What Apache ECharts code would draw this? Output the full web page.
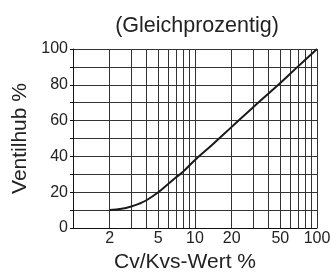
<!DOCTYPE html>
<html>
<head>
<meta charset="utf-8">
<script src="https://cdn.jsdelivr.net/npm/echarts@6/dist/echarts.min.js"></script>
<style>
  html, body { margin: 0; padding: 0; background: #fff; }
  #chart { width: 333px; height: 273px; }
</style>
</head>
<body>
<div id="chart"></div>
<script>
// Kennlinie: Cv/Kvs-Wert % (x, log) gegen Ventilhub % (y)
const kvsWert = [2, 2.5, 3, 3.5, 4, 5, 6, 7, 8, 10, 14, 20, 30, 50, 70, 100];
const ventilhub = [10, 10.7, 12, 13.6, 15.5, 20, 24.5, 28.3, 31.5, 38, 46.8, 56.5, 67.5, 81, 90.3, 100];
const xLabels = [2, 5, 10, 20, 50, 100];
const xGrid = [1, 2, 3, 4, 5, 6, 7, 8, 9, 10, 20, 30, 40, 50, 60, 70, 80, 90, 100];

const font = 'Liberation Sans, Arial, sans-serif';
const chart = echarts.init(document.getElementById('chart'));

chart.setOption({
  animation: false,
  title: {
    text: '(Gleichprozentig)',
    left: 192,
    top: 10,
    textAlign: 'center',
    textStyle: { fontFamily: font, fontSize: 21.5, fontWeight: 'normal', color: '#222' }
  },
  grid: { left: 73, right: 16, top: 49, bottom: 45, outerBoundsMode: 'none' },
  xAxis: {
    type: 'log',
    logBase: 10,
    min: 1,
    max: 100,
    name: 'Cv/Kvs-Wert %',
    nameLocation: 'middle',
    nameGap: 18,
    nameTextStyle: { fontFamily: font, fontSize: 21, color: '#222', padding: [0, 20, 0, 0] },
    axisLine: { lineStyle: { color: '#111', width: 1 } },
    axisTick: { show: false, customValues: xGrid },
    axisLabel: {
      customValues: xLabels,
      fontFamily: font, fontSize: 16, color: '#222', margin: 3
    },
    splitLine: { show: true, lineStyle: { color: '#333', width: 1 } }
  },
  yAxis: {
    type: 'value',
    min: 0,
    max: 100,
    interval: 10,
    name: 'Ventilhub %',
    nameLocation: 'middle',
    nameGap: 38,
    nameTextStyle: { fontFamily: font, fontSize: 21, color: '#222' },
    axisLine: { show: true, lineStyle: { color: '#111', width: 1 } },
    axisTick: { show: true, length: 3, lineStyle: { color: '#111' } },
    axisLabel: {
      fontFamily: font, fontSize: 16, color: '#222', margin: 5,
      formatter: v => (v % 20 === 0 ? String(v) : '')
    },
    splitLine: { show: true, lineStyle: { color: '#333', width: 1 } }
  },
  series: [{
    type: 'line',
    data: kvsWert.map((x, i) => [x, ventilhub[i]]),
    smooth: 0.4,
    showSymbol: false,
    lineStyle: { color: '#1a1a1a', width: 2 }
  }]
});
</script>
</body>
</html>
